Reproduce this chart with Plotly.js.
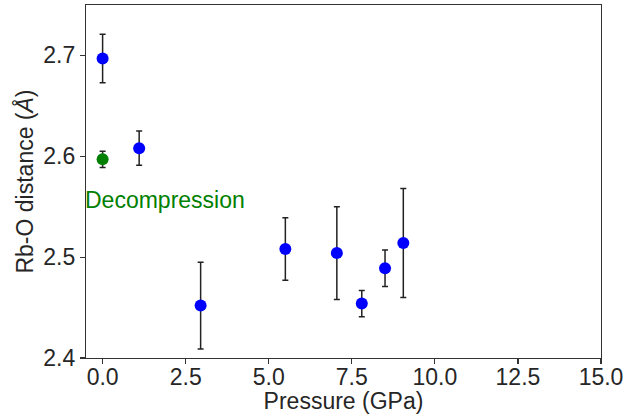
<!DOCTYPE html>
<html>
<head>
<meta charset="utf-8">
<script src="https://cdn.plot.ly/plotly-3.0.1.min.js"></script>
<style>html,body{margin:0;padding:0;background:#fff;}#chart{width:637px;height:414px;}</style>
</head>
<body>
<div id="chart"></div>
<script>
// Compression data
const pressure = [0, 1.1, 2.95, 5.5, 7.05, 7.8, 8.5, 9.05];
const distance = [2.697, 2.608, 2.452, 2.508, 2.504, 2.454, 2.489, 2.514];
const distanceErr = [0.024, 0.017, 0.043, 0.031, 0.046, 0.013, 0.018, 0.054];
// Decompression data
const decompPressure = [0];
const decompDistance = [2.597];
const decompErr = [0.008];
// Ticks
const xTicks = [0, 2.5, 5, 7.5, 10, 12.5, 15];
const yTicks = [2.4, 2.5, 2.6, 2.7];

const fontFam = '"Liberation Sans", Arial, sans-serif';
const txtCol = '#262626';
const fs = 23;

const traces = [
  {
    x: pressure, y: distance, type: 'scatter', mode: 'markers',
    marker: {color: '#0000ff', size: 12},
    error_y: {type: 'data', array: distanceErr, visible: true, color: '#222222', thickness: 1.5, width: 3},
    showlegend: false
  },
  {
    x: decompPressure, y: decompDistance, type: 'scatter', mode: 'markers',
    marker: {color: '#008000', size: 12},
    error_y: {type: 'data', array: decompErr, visible: true, color: '#222222', thickness: 1.5, width: 3},
    showlegend: false
  }
];

const layout = {
  width: 637, height: 414,
  margin: {l: 86, r: 36, t: 5, b: 56},
  paper_bgcolor: '#fff', plot_bgcolor: '#fff',
  font: {family: fontFam, size: fs, color: txtCol},
  xaxis: {
    range: [-0.5, 15], tickvals: xTicks, tickformat: '.1f',
    showgrid: false, zeroline: false,
    showline: true, mirror: true, linecolor: '#333', linewidth: 1.2,
    ticks: 'outside', ticklen: 5, tickwidth: 1.2, tickcolor: '#333',
    ticklabelstandoff: -7,
    tickfont: {size: fs, color: txtCol},
    title: {text: 'Pressure (GPa)', font: {size: fs, color: txtCol}, standoff: 10}
  },
  yaxis: {
    range: [2.4, 2.75], tickvals: yTicks, tickformat: '.1f',
    showgrid: false, zeroline: false,
    showline: true, mirror: true, linecolor: '#333', linewidth: 1.2,
    ticks: 'outside', ticklen: 5, tickwidth: 1.2, tickcolor: '#333',
    tickfont: {size: fs, color: txtCol},
    title: {text: 'Rb-O distance (<i>Å</i>)', font: {size: fs, color: txtCol}, standoff: 3}
  },
  annotations: [{
    x: -0.5, y: 2.557, xref: 'x', yref: 'y', xanchor: 'left', yanchor: 'middle', xshift: -3,
    text: 'Decompression', showarrow: false,
    font: {family: fontFam, size: fs, color: '#008000'}
  }]
};

Plotly.newPlot('chart', traces, layout, {displayModeBar: false, staticPlot: true});
</script>
</body>
</html>
